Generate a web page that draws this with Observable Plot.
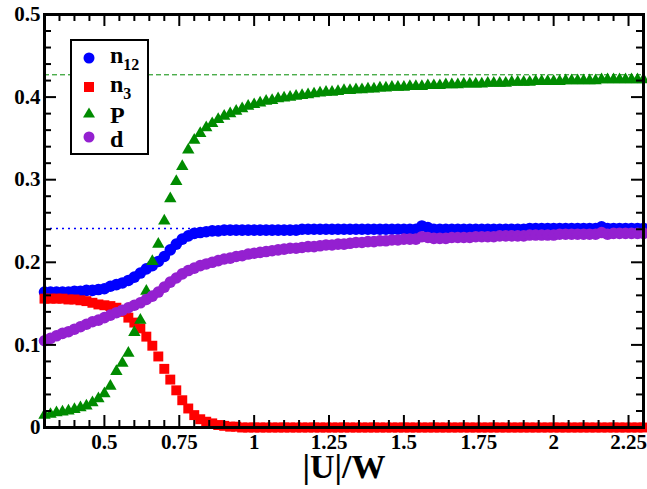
<!DOCTYPE html>
<html><head><meta charset="utf-8">
<script src="https://cdn.jsdelivr.net/npm/d3@7"></script>
<script src="https://cdn.jsdelivr.net/npm/@observablehq/plot@0.6"></script>
<style>
body{margin:0;background:#fff}
#wrap{position:relative;width:647px;height:489px}
#wrap svg text{font-family:"Liberation Serif","Times New Roman",serif;font-weight:bold}
#legend{position:absolute;left:70px;top:39px}
#legend text{font-size:24px;fill:#000}
</style>
</head><body><div id="wrap"></div>
<script>
// |U|/W grid
const uw = [0.30,0.32,0.34,0.36,0.38,0.40,0.42,0.44,0.46,0.48,
0.50,0.52,0.54,0.56,0.58,0.60,0.62,0.64,0.66,0.68,
0.70,0.72,0.74,0.76,0.78,0.80,0.82,0.84,0.86,0.88,
0.90,0.92,0.94,0.96,0.98,1.00,1.02,1.04,1.06,1.08,
1.10,1.12,1.14,1.16,1.18,1.20,1.22,1.24,1.26,1.28,
1.30,1.32,1.34,1.36,1.38,1.40,1.42,1.44,1.46,1.48,
1.50,1.52,1.54,1.56,1.58,1.60,1.62,1.64,1.66,1.68,
1.70,1.72,1.74,1.76,1.78,1.80,1.82,1.84,1.86,1.88,
1.90,1.92,1.94,1.96,1.98,2.00,2.02,2.04,2.06,2.08,
2.10,2.12,2.14,2.16,2.18,2.20,2.22,2.24,2.26,2.28,
2.30];
const n12 = [.164,.164,.164,.164,.164,.165,.165,.166,.166,.167,
.168,.171,.173,.175,.178,.182,.187,.192,.196,.201,
.207,.215,.222,.228,.232,.235,.236,.237,.238,.238,
.239,.239,.239,.239,.239,.239,.239,.239,.239,.239,
.239,.239,.239,.240,.240,.240,.240,.240,.240,.240,
.240,.240,.240,.240,.240,.240,.240,.240,.240,.240,
.240,.240,.240,.244,.242,.240,.240,.240,.240,.240,
.240,.240,.240,.240,.240,.240,.240,.240,.240,.240,
.240,.241,.241,.241,.241,.241,.241,.241,.241,.241,
.241,.241,.241,.243,.241,.241,.241,.241,.241,.241,
.241];
const n3 = [.156,.156,.156,.156,.155,.155,.154,.153,.151,.149,
.148,.147,.145,.140,.133,.127,.120,.110,.099,.086,
.071,.058,.045,.033,.023,.015,.010,.007,.005,.003,
.002,.001,.001,0,0,0,0,0,0,0,
0,0,0,0,0,0,0,0,0,0,
0,0,0,0,0,0,0,0,0,0,
0,0,0,0,0,0,0,0,0,0,
0,0,0,0,0,0,0,0,0,0,
0,0,0,0,0,0,0,0,0,0,
0,0,0,0,0,0,0,0,0,0,
0];
const P = [.015,.016,.018,.019,.020,.022,.024,.026,.030,.035,
.041,.050,.068,.078,.090,.115,.130,.165,.201,.222,
.250,.277,.298,.316,.336,.348,.356,.363,.368,.373,
.377,.380,.383,.386,.389,.391,.393,.395,.396,.398,
.399,.400,.401,.402,.403,.404,.405,.406,.406,.407,
.408,.408,.409,.409,.410,.410,.411,.411,.412,.412,
.412,.413,.413,.413,.414,.414,.414,.415,.415,.415,
.416,.416,.416,.416,.417,.417,.417,.417,.418,.418,
.418,.418,.419,.419,.419,.419,.419,.420,.420,.420,
.420,.420,.420,.421,.421,.421,.421,.421,.421,.421,
.421];
const d = [.105,.108,.111,.114,.116,.119,.122,.125,.128,.130,
.133,.136,.139,.142,.145,.148,.151,.155,.159,.164,
.170,.176,.181,.186,.190,.193,.196,.198,.200,.202,
.204,.205,.207,.208,.210,.211,.212,.213,.214,.215,
.216,.217,.217,.218,.219,.219,.220,.221,.221,.222,
.222,.223,.224,.224,.225,.225,.226,.226,.227,.227,
.228,.228,.228,.231,.230,.229,.229,.229,.230,.230,
.230,.230,.231,.231,.231,.231,.232,.232,.232,.232,
.232,.233,.233,.233,.233,.233,.234,.234,.234,.234,
.234,.234,.234,.236,.234,.235,.235,.235,.235,.235,
.235];
const refP = 0.427;    // dashed green reference
const refN12 = 0.241;  // dotted blue reference
const xTicks = [0.5,0.75,1,1.25,1.5,1.75,2,2.25];
const xTickLabels = ["0.5","0.75","1","1.25","1.5","1.75","2","2.25"];
const yTicks = [0,0.1,0.2,0.3,0.4,0.5];
const yTickLabels = ["0","0.1","0.2","0.3","0.4","0.5"];
const xMinor = d3.range(0.35,2.3,0.05).filter(v => !xTicks.some(t => Math.abs(t-v)<1e-6));
const yMinor = d3.range(0.02,0.5,0.02).filter(v => !yTicks.some(t => Math.abs(t-v)<1e-6));

const C = {n12:"#0000ff", n3:"#ff0000", P:"#008b00", d:"#9420d0"};

const W = 647, H = 489, mL = 44, mR = 4, mT = 14, mB = 62;
const iW = W - mL - mR, iH = H - mT - mB;
const rows = uw.map((u,i) => ({u, n12:n12[i], n3:n3[i], P:P[i], d:d[i]}));

const chart = Plot.plot({
  width: W, height: H,
  marginLeft: mL, marginRight: mR, marginTop: mT, marginBottom: mB,
  style: {fontFamily: "Liberation Serif", fontWeight: "bold", fontSize: "21px", color: "#000", background: "#fff"},
  x: {domain: [0.3, 2.3]},
  y: {domain: [0, 0.5]},
  marks: [
    Plot.ruleY([refP], {stroke: C.P, strokeWidth: 1, strokeDasharray: "5,3"}),
    Plot.ruleY([refN12], {stroke: C.n12, strokeWidth: 1.5, strokeDasharray: "2,4"}),
    Plot.dot(rows, {x: "u", y: "n12", r: 5.8, fill: C.n12, stroke: null, symbol: "circle"}),
    Plot.dot(rows, {x: "u", y: "n3", r: 5.6, fill: C.n3, stroke: null, symbol: "square"}),
    Plot.dot(rows, {x: "u", y: "P", r: 4.6, fill: C.P, stroke: null, symbol: "triangle"}),
    Plot.dot(rows, {x: "u", y: "d", r: 5.8, fill: C.d, stroke: null, symbol: "circle"}),
    // inward ticks (bottom, top, left, right)
    Plot.tickX(xTicks, {x: v => v, insetTop: iH - 12, strokeWidth: 2}),
    Plot.tickX(xMinor, {x: v => v, insetTop: iH - 7, strokeWidth: 2}),
    Plot.tickX(xTicks, {x: v => v, insetBottom: iH - 12, strokeWidth: 2}),
    Plot.tickX(xMinor, {x: v => v, insetBottom: iH - 7, strokeWidth: 2}),
    Plot.tickY(yTicks, {y: v => v, insetRight: iW - 12, strokeWidth: 2}),
    Plot.tickY(yMinor, {y: v => v, insetRight: iW - 7, strokeWidth: 2}),
    Plot.tickY(yTicks, {y: v => v, insetLeft: iW - 12, strokeWidth: 2}),
    Plot.tickY(yMinor, {y: v => v, insetLeft: iW - 7, strokeWidth: 2}),
    Plot.frame({stroke: "#000", strokeWidth: 3}),
    Plot.axisX({ticks: xTicks, tickSize: 0, tickPadding: 7, tickFormat: v => xTickLabels[xTicks.indexOf(v)], label: null, fontSize: 21, fontWeight: "bold"}),
    Plot.axisY({ticks: yTicks, tickSize: 0, tickPadding: 4, tickFormat: v => yTickLabels[yTicks.indexOf(v)], label: null, fontSize: 21, fontWeight: "bold"}),
    Plot.text(["|U|/W"], {frameAnchor: "bottom", dy: 40, lineAnchor: "middle", fontSize: 34, fontWeight: "bold", fill: "#000"})
  ]
});
const wrap = document.getElementById("wrap");
wrap.appendChild(chart);

const legend = `<svg id="legend" width="80" height="117" xmlns="http://www.w3.org/2000/svg">
<rect x="1" y="1" width="77" height="114" fill="#fff" stroke="#000" stroke-width="2"/>
<circle cx="19" cy="19" r="5.5" fill="${C.n12}"/>
<rect x="14" y="43" width="10" height="10" fill="${C.n3}"/>
<polygon points="19,68.5 25,78.5 13,78.5" fill="${C.P}"/>
<circle cx="19" cy="98" r="5.5" fill="${C.d}"/>
<text x="40" y="24">n<tspan font-size="16" dy="7">12</tspan></text>
<text x="40" y="53">n<tspan font-size="16" dy="7">3</tspan></text>
<text x="40" y="84">P</text>
<text x="40" y="108">d</text>
</svg>`;
wrap.insertAdjacentHTML("beforeend", legend);
</script>
</body></html>
